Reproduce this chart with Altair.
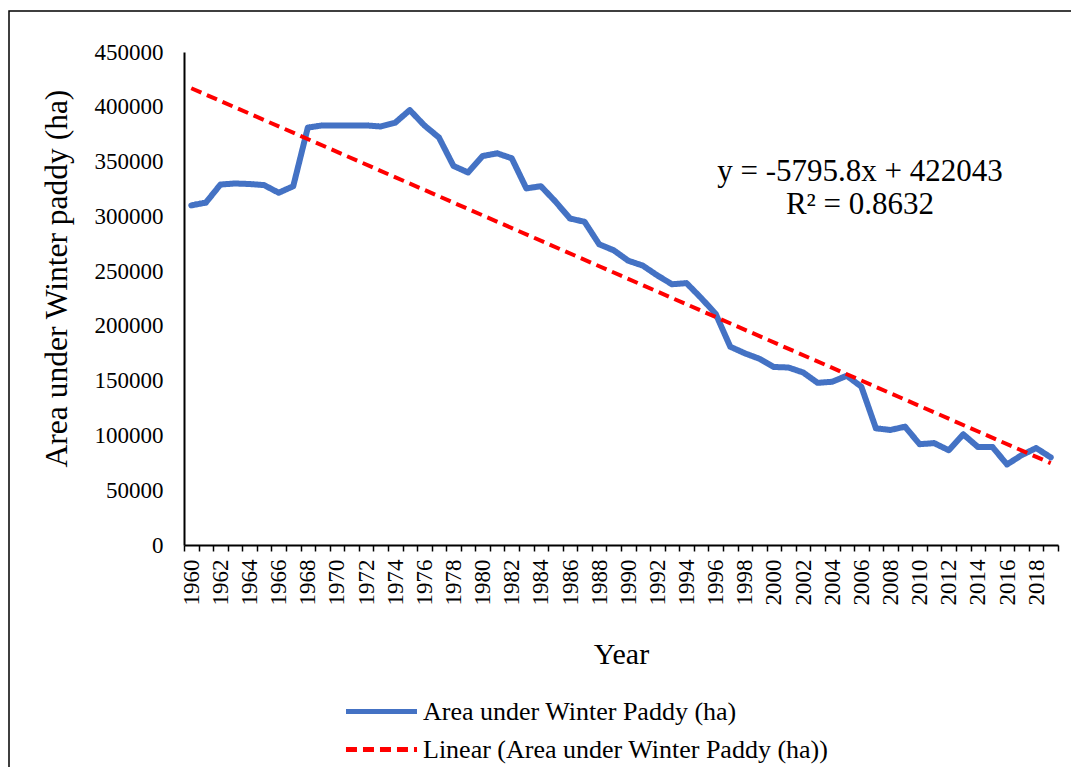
import altair as alt
import pandas as pd

# ---------------- data ----------------
years = list(range(1960, 2020))
area_ha = [
    310000, 312500, 329000, 330000, 329500, 328500, 321500, 327500, 381000, 383000,
    383000, 383000, 383000, 382000, 385500, 397000, 383000, 372000, 346000, 340000,
    355000, 357500, 353000, 325500, 327500, 313500, 298000, 295000, 274500, 269000,
    259500, 255000, 246000, 238000, 239000, 225500, 211000, 181000, 175000, 170000,
    162500, 162000, 157500, 148000, 149000, 154500, 144500, 106500, 105000, 108000,
    92000, 93000, 86500, 101000, 89500, 89500, 73500, 82000, 88500, 80000,
]
y_tick_values = list(range(0, 450001, 50000))
x_label_years = years[::2]
series_name = "Area under Winter Paddy (ha)"
trend_name = "Linear (Area under Winter Paddy (ha))"
eq_line1 = "y = -5795.8x + 422043"
eq_line2 = "R² = 0.8632"
y_title = "Area under Winter paddy (ha)"
x_title = "Year"

# category boundaries for the tick marks (Excel-style category axis)
tick_bounds = [y - 0.5 for y in years] + [years[-1] + 0.5]

FONT = "Liberation Serif"
W, H = 874, 493

df = pd.DataFrame({"Year": years, "Value": area_ha, "Series": series_name})

xscale = alt.Scale(domain=[years[0] - 0.5, years[-1] + 0.5], nice=False, zero=False)
yscale = alt.Scale(domain=[0, 450000], nice=False, zero=True)

legend = alt.Legend(
    orient="none", legendX=183, legendY=645, direction="vertical", title="",
    symbolType="M-2.96,0H2.96", symbolSize=576, symbolStrokeWidth=5,
    labelFont=FONT, labelFontSize=26, labelColor="black", labelLimit=0,
    labelOffset=27, rowPadding=10, padding=0,
)
color = alt.Color(
    "Series:N",
    scale=alt.Scale(domain=[series_name, trend_name], range=["#4472C4", "#FF0000"]),
    legend=legend,
)
dash = alt.StrokeDash(
    "Series:N",
    scale=alt.Scale(domain=[series_name, trend_name], range=[[1, 0], [11, 6]]),
    legend=legend,
)

y_axis = alt.Axis(
    values=y_tick_values, format="d", title=y_title, grid=False,
    ticks=False, tickSize=0, labelPadding=21, labelFont=FONT, labelFontSize=23,
    labelColor="black", domain=True, domainColor="black", domainWidth=2,
    titleFont=FONT, titleFontSize=31.5, titleFontWeight="normal", titleColor="black",
    titleAngle=270, titleX=-118, titleY=226, titleAlign="center", titleBaseline="alphabetic",
)
yenc = alt.Y("Value:Q", scale=yscale, axis=y_axis)

x_axis_labels = alt.Axis(
    orient="bottom", values=x_label_years, format="d", labelAngle=270,
    labelFont=FONT, labelFontSize=23, labelColor="black", labelPadding=14,
    labelFlush=False, labelOverlap=False, labelBound=False,
    ticks=False, tickSize=0, grid=False,
    domain=True, domainColor="black", domainWidth=2,
    title=x_title, titleFont=FONT, titleFontSize=30, titleFontWeight="normal",
    titleColor="black", titleX=437, titleY=118, titleBaseline="alphabetic",
)
x_axis_ticks = alt.Axis(
    orient="bottom", values=tick_bounds, labels=False, ticks=True, tickSize=6,
    tickWidth=1.5, tickColor="black", domain=False, grid=False, title="",
)

line = alt.Chart(df).mark_line(strokeWidth=6, strokeJoin="round", strokeCap="round").encode(
    x=alt.X("Year:Q", scale=xscale, axis=x_axis_labels),
    y=yenc,
    color=color,
    strokeDash=dash,
)

trend = (
    alt.Chart(df)
    .transform_regression("Year", "Value", extent=[years[0], years[-1]])
    .transform_calculate(Series=f"'{trend_name}'")
    .mark_line(strokeWidth=4)
    .encode(
        x=alt.X("Year:Q", scale=xscale, axis=x_axis_ticks),
        y=yenc,
        color=color,
        strokeDash=dash,
    )
)

eq = alt.Chart(pd.DataFrame({"eq": [eq_line1 + "\n" + eq_line2]})).mark_text(
    font=FONT, fontSize=31, color="black", align="center", baseline="middle",
    lineBreak="\n", lineHeight=33,
).encode(text="eq:N", x=alt.value(676), y=alt.value(120))

frame = alt.Chart(pd.DataFrame({"f": [0]})).mark_rect(
    filled=False, stroke="black", strokeWidth=1.5
).encode(x=alt.value(-175), x2=alt.value(891), y=alt.value(-41), y2=alt.value(760))

chart = (
    alt.layer(frame, line, trend, eq)
    .resolve_axis(x="independent")
    .properties(
        width=W, height=H,
        padding={"left": 176, "top": 44, "right": 13, "bottom": 222},
        autosize=alt.AutoSizeParams(type="none"),
        background="white",
    )
    .configure(font=FONT)
    .configure_axis(labelFont=FONT, titleFont=FONT)
    .configure_legend(labelFont=FONT)
    .configure_view(strokeWidth=0)
)

chart.save("out.html", embed_options={"renderer": "svg", "actions": False})
